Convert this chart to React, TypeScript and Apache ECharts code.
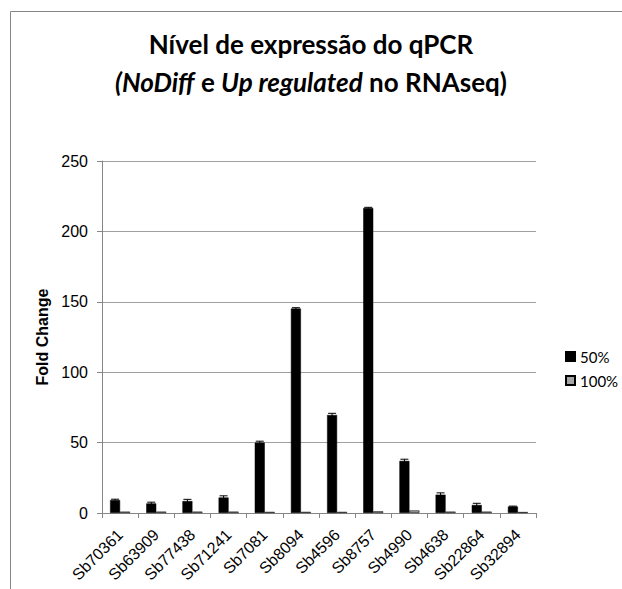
import React, { useEffect, useRef } from "react";
import * as echarts from "echarts";

const categories = [
  "Sb70361", "Sb63909", "Sb77438", "Sb71241", "Sb7081", "Sb8094",
  "Sb4596", "Sb8757", "Sb4990", "Sb4638", "Sb22864", "Sb32894",
];
const values50 = [9.2, 6.8, 8.5, 11, 50, 145.2, 69.6, 216.6, 37, 13, 5.7, 4.6];
const errors50 = [0.6, 0.9, 1.2, 1.2, 1.0, 0.6, 1.2, 0.5, 1.2, 1.3, 1.2, 0.3];
const values100 = [1, 1, 1, 1, 0.8, 0.8, 0.8, 1.2, 1.8, 1, 1, 0.7];
const yTicks = { min: 0, max: 250, interval: 50 };
const seriesNames = ["50%", "100%"];

const BAR_W = 10;

export default function App() {
  const ref = useRef<HTMLDivElement>(null);
  useEffect(() => {
    if (!ref.current) return;
    const chart = echarts.init(ref.current, undefined, { renderer: "svg" });
    const titleFont = "Lato, 'Open Sans', sans-serif";
    const axisFont = "Liberation Sans, Arial, sans-serif";
    chart.setOption({
      animation: false,
      backgroundColor: "#ffffff",
      title: {
        left: "center",
        top: 25,
        padding: 0,
        text: "Nível de expressão do qPCR\n{i|(NoDiff} e {i|Up regulated} no RNAseq)",
        textStyle: {
          fontFamily: titleFont,
          fontWeight: "bold",
          fontSize: 26,
          lineHeight: 38,
          color: "#000",
          rich: {
            i: {
              fontFamily: titleFont,
              fontWeight: "bold",
              fontStyle: "italic",
              fontSize: 26,
              lineHeight: 38,
              color: "#000",
            },
          },
        },
      },
      graphic: [
        {
          type: "line",
          shape: { x1: 10.5, y1: 11.5, x2: 640, y2: 11.5 },
          style: { stroke: "#868686", lineWidth: 1 },
          silent: true,
        },
        {
          type: "line",
          shape: { x1: 10.5, y1: 11.5, x2: 10.5, y2: 600 },
          style: { stroke: "#868686", lineWidth: 1 },
          silent: true,
        },
      ],
      legend: {
        data: seriesNames,
        orient: "vertical",
        left: 560,
        top: 344,
        itemWidth: 9,
        itemHeight: 9,
        itemGap: 9,
        icon: "rect",
        textStyle: { fontFamily: titleFont, fontSize: 15, color: "#000" },
      },
      grid: { left: 102, right: 86, top: 161, bottom: 76, containLabel: false },
      xAxis: {
        type: "category",
        data: categories,
        axisLine: { show: true, lineStyle: { color: "#868686", width: 1 } },
        axisTick: { show: true, alignWithLabel: false, length: 5, lineStyle: { color: "#868686" } },
        axisLabel: {
          rotate: 45,
          interval: 0,
          margin: 19,
          fontFamily: axisFont,
          fontSize: 16,
          color: "#000",
        },
        splitLine: { show: false },
      },
      yAxis: {
        type: "value",
        min: yTicks.min,
        max: yTicks.max,
        interval: yTicks.interval,
        name: "Fold Change",
        nameLocation: "middle",
        nameGap: 48,
        nameTextStyle: {
          fontFamily: axisFont,
          fontSize: 16,
          fontWeight: "bold",
          color: "#000",
        },
        axisLine: { show: true, lineStyle: { color: "#868686", width: 1 } },
        axisTick: { show: true, inside: false, length: 5, lineStyle: { color: "#868686" } },
        axisLabel: { margin: 14, fontFamily: axisFont, fontSize: 16, color: "#000" },
        splitLine: { show: true, lineStyle: { color: "#a0a0a0", width: 1 } },
      },
      series: [
        {
          name: seriesNames[0],
          type: "bar",
          data: values50,
          barWidth: BAR_W,
          barGap: "0%",
          itemStyle: { color: "#000000", borderColor: "#000", borderWidth: 0.5 },
        },
        {
          name: seriesNames[1],
          type: "bar",
          data: values100,
          barWidth: BAR_W,
          barGap: "0%",
          itemStyle: { color: "#a6a6a6", borderColor: "#000", borderWidth: 0.6 },
        },
        {
          name: "err",
          type: "custom",
          data: values50.map((v, i) => [i, v, errors50[i]]),
          z: 10,
          renderItem: (params: any, api: any) => {
            const i = api.value(0);
            const v = api.value(1);
            const e = api.value(2);
            const top = api.coord([i, v + e]);
            const bot = api.coord([i, v - e]);
            const x = top[0] - BAR_W / 2;
            return {
              type: "group",
              children: [
                {
                  type: "line",
                  shape: { x1: x, y1: top[1], x2: x, y2: bot[1] },
                  style: { stroke: "#000", lineWidth: 1 },
                },
                {
                  type: "line",
                  shape: { x1: x - 4, y1: top[1], x2: x + 4, y2: top[1] },
                  style: { stroke: "#000", lineWidth: 1 },
                },
              ],
            };
          },
        },
      ],
    });
    return () => chart.dispose();
  }, []);
  return (
    <div
      ref={ref}
      style={{ position: "absolute", left: 0, top: 0, width: 622, height: 589, background: "#fff" }}
    />
  );
}
